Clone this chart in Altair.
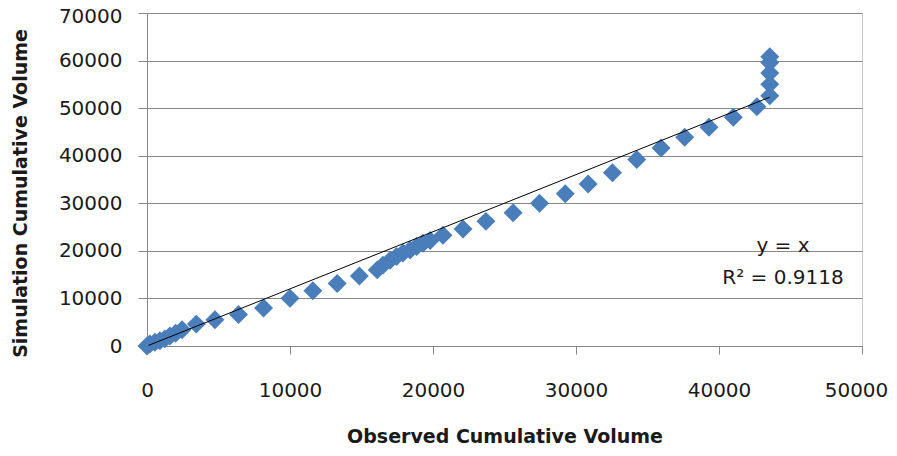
import altair as alt
import pandas as pd

# Observed vs simulated cumulative volume
observed = [0, 200, 550, 900, 1250, 1600, 2000, 2450, 3450, 4750, 6400, 8150,
            10000, 11600, 13300, 14850, 16100, 16500, 17000, 17450, 17900, 18400,
            18850, 19300, 19800, 20700, 22100, 23700, 25600, 27450, 29250, 30850,
            32550, 34250, 35950, 37600, 39300, 41000, 42650, 43550, 43550, 43550,
            43550, 43550]
simulated = [0, 400, 800, 1100, 1500, 2100, 2700, 3400, 4600, 5500, 6600, 8000,
             10050, 11600, 13150, 14700, 16000, 17000, 18000, 18800, 19550, 20200,
             20900, 21600, 22200, 23300, 24600, 26200, 28000, 30000, 32000, 34050,
             36400, 39200, 41600, 43900, 46000, 48100, 50300, 52600, 55000, 57400,
             59600, 60800]

# Trend line end points
trend_x = [100, 43550]
trend_y = [120, 52300]

x_ticks = [0, 10000, 20000, 30000, 40000, 50000]
y_ticks = [0, 10000, 20000, 30000, 40000, 50000, 60000, 70000]

eq_label = "y = x"
r2_label = "R\u00b2 = 0.9118"

df = pd.DataFrame({"observed": observed, "simulated": simulated})
trend = pd.DataFrame({"observed": trend_x, "simulated": trend_y})

FONT = "DejaVu Sans"
GRAY = "#878787"

xs = alt.Scale(domain=[0, 50000], nice=False, zero=False)
ys = alt.Scale(domain=[0, 70000], nice=False, zero=False)

x_axis = alt.Axis(values=x_ticks, format="d", grid=False,
                  title="Observed Cumulative Volume",
                  domainColor=GRAY, tickColor=GRAY, tickSize=8,
                  labelPadding=26, labelFontSize=20, labelFont=FONT,
                  labelColor="#1a1a1a", labelFlush=False,
                  labelOffset={"expr": "datum.value == 50000 ? -6 : 0"},
                  titleFont=FONT, titleFontSize=19, titleFontWeight="bold",
                  titleColor="#1a1a1a", titleY=96, titleBaseline="alphabetic")
y_axis = alt.Axis(values=y_ticks, format="d", grid=True, gridColor=GRAY,
                  title="Simulation Cumulative Volume",
                  domainColor=GRAY, tickColor=GRAY, tickSize=9,
                  labelPadding=16, labelFontSize=20, labelFont=FONT,
                  labelColor="#1a1a1a", labelFlush=False,
                  labelOffset={"expr": "datum.value == 70000 ? 3 : 0"},
                  titleFont=FONT, titleFontSize=19, titleFontWeight="bold",
                  titleColor="#1a1a1a", titleX=-127, titleY=180,
                  titleBaseline="middle")

points = alt.Chart(df).mark_point(
    shape="diamond", filled=True, size=360, color="#4a7ebb", opacity=1
).encode(
    x=alt.X("observed:Q", scale=xs, axis=x_axis),
    y=alt.Y("simulated:Q", scale=ys, axis=y_axis),
)

line = alt.Chart(trend).mark_line(color="black", strokeWidth=1).encode(
    x=alt.X("observed:Q", scale=xs),
    y=alt.Y("simulated:Q", scale=ys),
)

eq_text = alt.Chart(pd.DataFrame({"t": [eq_label]})).mark_text(
    font=FONT, fontSize=20, color="#1a1a1a", align="center", baseline="alphabetic"
).encode(text="t:N", x=alt.value(636), y=alt.value(239))

r2_text = alt.Chart(pd.DataFrame({"t": [r2_label]})).mark_text(
    font=FONT, fontSize=20, color="#1a1a1a", align="center", baseline="alphabetic"
).encode(text="t:N", x=alt.value(636), y=alt.value(271))

chart = alt.layer(points, line, eq_text, r2_text).properties(
    width=715, height=333,
    autosize=alt.AutoSizeParams(type="none"),
    padding={"left": 139, "top": 5, "right": 27, "bottom": 102},
).configure_view(stroke="#c8c8c8", strokeWidth=1)

chart.save("out.html", embed_options={"renderer": "svg", "actions": False})
